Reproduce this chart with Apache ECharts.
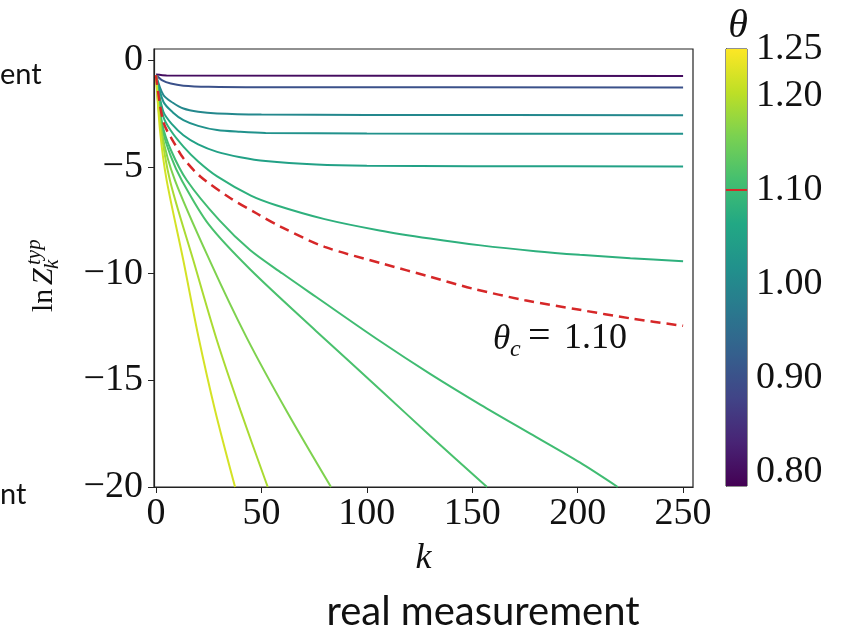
<!DOCTYPE html>
<html>
<head>
<meta charset="utf-8">
<script src="https://cdn.jsdelivr.net/npm/echarts@6/dist/echarts.min.js"></script>
<style>
html, body { margin: 0; padding: 0; background: #fff; }
#main { width: 846px; height: 635px; }
</style>
</head>
<body>
<div id="main"></div>
<script>
// theta of each solid curve, top to bottom (colour comes from viridis)
var thetas = [0.80, 0.90, 1.00, 1.02, 1.05, 1.08, 1.105, 1.115, 1.16, 1.19, 1.22];
var thetaC = 1.10;

// k / ln Z_k^typ, one pair of arrays per curve
var k1 = [0, 5, 250];                                   var z1 = [-0.68, -0.72, -0.74];
var k2 = [0, 3, 7, 13, 25, 50, 250];                    var z2 = [-0.7, -0.95, -1.1, -1.2, -1.25, -1.27, -1.28];
var k3 = [0, 3.5, 8, 13, 20, 29, 50, 100, 250];         var z3 = [-0.7, -1.64, -2.0, -2.27, -2.42, -2.5, -2.55, -2.57, -2.58];
var k4 = [0, 3.5, 8, 13, 20, 29, 40, 52, 100, 250];     var z4 = [-0.7, -1.95, -2.45, -2.81, -3.08, -3.28, -3.36, -3.41, -3.44, -3.45];
var k5 = [0, 3.5, 8, 13, 20, 29, 40, 52, 76, 100, 150, 250];
var z5 = [-0.7, -2.42, -3.05, -3.52, -3.95, -4.3, -4.55, -4.73, -4.89, -4.95, -4.97, -4.98];
var k6 = [0, 3.5, 7, 13, 20, 29, 45, 57, 80, 106, 130, 154, 180, 201, 225, 250];
var z6 = [-0.7, -2.65, -3.3, -4.05, -4.75, -5.45, -6.35, -6.8, -7.45, -7.98, -8.36, -8.68, -8.95, -9.12, -9.28, -9.42];
var k7 = [0, 3, 7, 14.6, 30, 44.6, 60, 76, 106, 130, 154, 177.5, 201, 219];
var z7 = [-0.7, -3.0, -4.2, -5.63, -7.5, -8.9, -10.0, -11.1, -13.15, -14.7, -16.15, -17.5, -18.85, -20];
var k8 = [0, 3, 7, 12.2, 25, 44.6, 76, 107, 130, 157];
var z8 = [-0.7, -3.2, -4.5, -5.63, -7.7, -9.8, -12.7, -15.5, -17.6, -20];
var k9 = [0, 3, 9, 26, 43, 62, 83];                     var z9 = [-0.7, -3.5, -5.63, -9.5, -13.0, -16.45, -20];
var k10 = [0, 2, 6.6, 17.7, 28.8, 40, 53];              var z10 = [-0.7, -3.0, -5.63, -9.38, -13.1, -16.4, -20];
var k11 = [0, 2, 5, 13, 20, 28, 37.5];                  var z11 = [-0.7, -3.4, -5.6, -9.4, -12.9, -16.4, -20];
// critical curve (red dashed)
var kC = [0, 3.5, 9, 13, 21, 35, 48, 60, 80, 108, 130, 150, 175, 201, 225, 250];
var zC = [-0.7, -2.9, -3.95, -4.6, -5.45, -6.45, -7.2, -7.85, -8.75, -9.55, -10.15, -10.7, -11.25, -11.7, -12.1, -12.45];

var xTicks = [0, 50, 100, 150, 200, 250];
var yTicks = [0, -5, -10, -15, -20];
var cbTicks = [0.80, 0.90, 1.00, 1.10, 1.20, 1.25];
var cbMin = 0.785, cbMax = 1.25;

var viridis = ['#440154', '#482475', '#414487', '#355f8d', '#2a788e', '#21918c',
               '#22a884', '#44bf70', '#7ad151', '#bddf26', '#fde725'];

function hexRgb(h) { return [parseInt(h.substr(1, 2), 16), parseInt(h.substr(3, 2), 16), parseInt(h.substr(5, 2), 16)]; }
function cmap(theta) {
    var t = (theta - cbMin) / (cbMax - cbMin);
    t = Math.max(0, Math.min(1, t)) * (viridis.length - 1);
    var i = Math.min(Math.floor(t), viridis.length - 2), f = t - i;
    var a = hexRgb(viridis[i]), b = hexRgb(viridis[i + 1]);
    return 'rgb(' + [0, 1, 2].map(function (j) { return Math.round(a[j] + (b[j] - a[j]) * f); }).join(',') + ')';
}
function zip(xs, ys) { return xs.map(function (x, i) { return [x, ys[i]]; }); }
function minus(v) { return v < 0 ? '\u2212' + (-v) : String(v); }

var curvesK = [k1, k2, k3, k4, k5, k6, k7, k8, k9, k10, k11];
var curvesZ = [z1, z2, z3, z4, z5, z6, z7, z8, z9, z10, z11];

var serif = '"Liberation Serif", "DejaVu Serif", serif';
var sans = 'Lato, "Open Sans", sans-serif';

var series = [];
curvesK.forEach(function (ks, i) {
    series.push({
        type: 'line', xAxisIndex: 0, yAxisIndex: 0,
        data: zip(ks, curvesZ[i]),
        showSymbol: false, smooth: 0.3,
        lineStyle: { width: 2, color: cmap(thetas[i]) },
        z: 3
    });
});
series.push({
    type: 'line', xAxisIndex: 0, yAxisIndex: 0,
    data: zip(kC, zC),
    showSymbol: false, smooth: 0.3,
    lineStyle: { width: 2.5, color: '#d62728', type: [10, 6] },
    z: 4
});

// colour bar
var stops = viridis.map(function (c, i) { return { offset: 1 - i / (viridis.length - 1), color: c }; });
series.push({
    type: 'custom', xAxisIndex: 1, yAxisIndex: 1,
    data: [[0, cbMin, 1, cbMax]],
    renderItem: function (params, api) {
        var p0 = api.coord([api.value(0), api.value(3)]);
        var p1 = api.coord([api.value(2), api.value(1)]);
        return {
            type: 'rect',
            shape: { x: p0[0], y: p0[1], width: p1[0] - p0[0], height: p1[1] - p0[1] },
            style: { fill: new echarts.graphic.LinearGradient(0, 0, 0, 1, stops) }
        };
    },
    z: 2
});
series.push({
    type: 'line', xAxisIndex: 1, yAxisIndex: 1,
    data: [[0, thetaC], [1, thetaC]],
    showSymbol: false,
    lineStyle: { width: 2, color: '#d62728' },
    z: 5
});

var tickLabel = { fontFamily: serif, fontSize: 38, color: '#111' };

var option = {
    animation: false,
    backgroundColor: '#fff',
    grid: [
        { left: 154, right: 153, top: 49, bottom: 148, show: true, borderColor: '#222', borderWidth: 1.2, backgroundColor: 'transparent' },
        { left: 726, width: 21, top: 49, bottom: 149, show: true, borderColor: '#222', borderWidth: 1, backgroundColor: 'transparent' }
    ],
    xAxis: [
        {
            type: 'value', gridIndex: 0, min: -0.95, max: 254.7,
            axisLine: { show: true, onZero: false, lineStyle: { color: '#222', width: 1.2 } },
            axisTick: { show: true, length: 6, customValues: xTicks, lineStyle: { color: '#222' } },
            axisLabel: Object.assign({ customValues: xTicks, margin: 8 }, tickLabel),
            splitLine: { show: false },
            name: 'k', nameLocation: 'middle', nameGap: 54,
            nameTextStyle: { fontFamily: serif, fontSize: 36, fontStyle: 'italic', color: '#111' }
        },
        { type: 'value', gridIndex: 1, min: 0, max: 1, show: false }
    ],
    yAxis: [
        {
            type: 'value', gridIndex: 0, min: -20, max: 0.52,
            axisLine: { show: true, onZero: false, lineStyle: { color: '#222', width: 1.2 } },
            axisTick: { show: true, length: 6, customValues: yTicks, lineStyle: { color: '#222' } },
            axisLabel: Object.assign({ customValues: yTicks, margin: 11, formatter: minus }, tickLabel),
            splitLine: { show: false }
        },
        {
            type: 'value', gridIndex: 1, min: cbMin, max: cbMax, position: 'right',
            axisLine: { show: true, lineStyle: { color: '#222' } },
            axisTick: { show: true, length: 5, customValues: cbTicks, lineStyle: { color: '#222' } },
            axisLabel: Object.assign({ customValues: cbTicks, margin: 9, formatter: function (v) { return v.toFixed(2); } }, tickLabel),
            splitLine: { show: false }
        }
    ],
    series: series,
    graphic: [
        {
            type: 'group', x: 59, y: 312, rotation: Math.PI / 2,
            children: [
                { type: 'text', x: 0, y: 0, style: { text: 'ln', fontFamily: serif, fontSize: 30, fill: '#111', verticalAlign: 'bottom' } },
                { type: 'text', x: 27, y: 0, style: { text: 'Z', fontFamily: serif, fontSize: 30, fontStyle: 'italic', fill: '#111', verticalAlign: 'bottom' } },
                { type: 'text', x: 47, y: -14, style: { text: 'typ', fontFamily: serif, fontSize: 21, fontStyle: 'italic', fill: '#111', verticalAlign: 'bottom' } },
                { type: 'text', x: 43, y: 4, style: { text: 'k', fontFamily: serif, fontSize: 21, fontStyle: 'italic', fill: '#111', verticalAlign: 'bottom' } }
            ]
        },
        { type: 'text', x: 493, y: 357, style: { text: '\u03b8', fontFamily: serif, fontSize: 35, fontStyle: 'italic', fill: '#111', verticalAlign: 'bottom' } },
        { type: 'text', x: 510, y: 362, style: { text: 'c', fontFamily: serif, fontSize: 24, fontStyle: 'italic', fill: '#111', verticalAlign: 'bottom' } },
        { type: 'text', x: 528, y: 357, style: { text: '=', fontFamily: serif, fontSize: 40, fill: '#111', verticalAlign: 'bottom' } },
        { type: 'text', x: 564, y: 357, style: { text: '1.10', fontFamily: serif, fontSize: 36, fill: '#111', verticalAlign: 'bottom' } },
        { type: 'text', x: 738, y: 46, style: { text: '\u03b8', fontFamily: serif, fontSize: 40, fontStyle: 'italic', fill: '#111', align: 'center', verticalAlign: 'bottom' } },
        { type: 'text', x: 483, y: 632, style: { text: 'real measurement', fontFamily: sans, fontSize: 40, fill: '#111', align: 'center', verticalAlign: 'bottom' } },
        { type: 'text', x: 0, y: 89, style: { text: 'ent', fontFamily: sans, fontSize: 29, fill: '#111', verticalAlign: 'bottom' } },
        { type: 'text', x: 0, y: 509, style: { text: 'nt', fontFamily: sans, fontSize: 29, fill: '#111', verticalAlign: 'bottom' } }
    ]
};

var myChart = echarts.init(document.getElementById('main'));
myChart.setOption(option);
</script>
</body>
</html>
